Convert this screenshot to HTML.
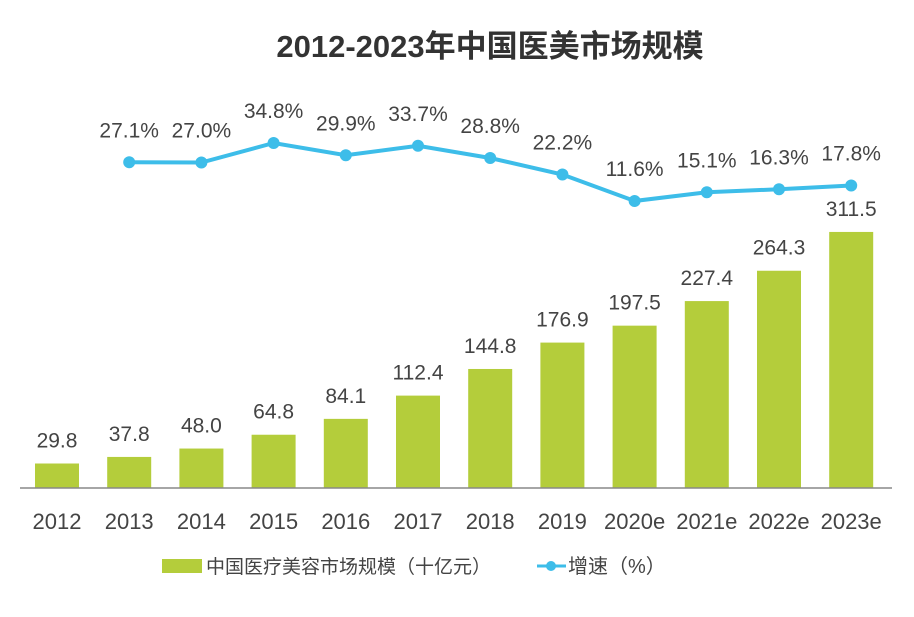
<!DOCTYPE html>
<html><head><meta charset="utf-8"><style>
body{margin:0;background:#fff;}
svg text{font-family:"Liberation Sans","Noto Sans CJK SC",sans-serif;}
</style></head><body>
<svg width="914" height="612" xmlns="http://www.w3.org/2000/svg">
<text x="490" y="57" text-anchor="middle" font-size="31" font-weight="bold" fill="#333">2012-2023年中国医美市场规模</text>
<g id="bars"></g><g id="line"></g><g id="xlabels"></g>
<line x1="20" y1="488" x2="892" y2="488" stroke="#888" stroke-width="1.5"/>
<g>
<rect x="162" y="559" width="40" height="14" fill="#b4cd3b"/>
<text x="206" y="573" font-size="19" fill="#444">中国医疗美容市场规模（十亿元）</text>
<line x1="537" y1="566" x2="566" y2="566" stroke="#3dbde9" stroke-width="3"/>
<circle cx="551" cy="566" r="5" fill="#3dbde9"/>
<text x="568" y="573" font-size="20" fill="#444">增速（%）</text>
</g>
</svg>
<script>
const categories=["2012","2013","2014","2015","2016","2017","2018","2019","2020e","2021e","2022e","2023e"];
const marketSize=[29.8,37.8,48.0,64.8,84.1,112.4,144.8,176.9,197.5,227.4,264.3,311.5];
const growth=[null,27.1,27.0,34.8,29.9,33.7,28.8,22.2,11.6,15.1,16.3,17.8];
const NS="http://www.w3.org/2000/svg";
const xc=i=>57+i*72.2;
const yb=v=>488-v*0.822;
const yl=v=>143+(34.8-v)*2.5;
function mk(tag,attrs,parent){const e=document.createElementNS(NS,tag);for(const k in attrs)e.setAttribute(k,attrs[k]);parent.appendChild(e);return e;}
const gb=document.getElementById('bars'),gl=document.getElementById('line'),gx=document.getElementById('xlabels');
categories.forEach((c,i)=>{
 const v=marketSize[i];
 const r=mk('rect',{x:xc(i)-22,y:yb(v),width:44,height:488-yb(v),fill:'#b4cd3b'},gb);
 
 
 const t=mk('text',{x:xc(i),y:yb(v)-16,'text-anchor':'middle','font-size':21,fill:'#444'},gb);
 t.textContent=v.toFixed(1);
 
 
 const xt=mk('text',{x:xc(i),y:529,'text-anchor':'middle','font-size':22,fill:'#444'},gx);
 xt.textContent=c;
 
 
});
let pts=[];
growth.forEach((g,i)=>{if(g!==null)pts.push([xc(i),yl(g),g,i]);});
const pl=mk('polyline',{points:pts.map(p=>p[0]+','+p[1]).join(' '),fill:'none',stroke:'#3dbde9','stroke-width':4},gl);


pts.forEach(p=>{
 const c=mk('circle',{cx:p[0],cy:p[1],r:6,fill:'#3dbde9'},gl);
 
 
 const t=mk('text',{x:p[0],y:p[1]-25,'text-anchor':'middle','font-size':21,fill:'#444'},gl);
 t.textContent=p[2].toFixed(1)+'%';
 
 
});
</script>
</body></html>
